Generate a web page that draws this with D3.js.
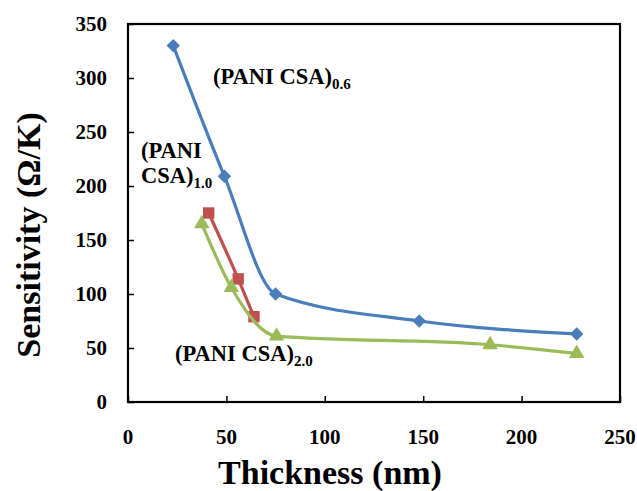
<!DOCTYPE html>
<html><head><meta charset="utf-8">
<script src="https://cdn.jsdelivr.net/npm/d3@7"></script>
<style>body{margin:0;background:#fff}svg{display:block}</style>
</head><body><svg id="c" width="637" height="491" font-family="'Liberation Serif', 'DejaVu Serif', serif" font-weight="bold"></svg>
<script>
const xTicks = [0, 50, 100, 150, 200, 250];
const yTicks = [0, 50, 100, 150, 200, 250, 300, 350];
const thick06 = [23, 49, 75, 148, 228];
const sens06 = [330, 209, 100, 75, 63];
const thick10 = [41, 56, 64];
const sens10 = [175, 114, 79];
const thick20 = [37.5, 52.5, 75.5, 184, 228];
const sens20 = [165, 106, 61, 53, 45];
const seriesNames = ["0.6", "1.0", "2.0"];
const colors = ["#4A7EBB", "#C0504D", "#9BBB59"];
const xTitle = "Thickness (nm)";
const yTitle = "Sensitivity (\u03A9/K)";

const svg = d3.select("#c");
const L = 128, R = 620, T = 24, B = 402;
const x = d3.scaleLinear().domain([0, 250]).range([L, R]);
const y = d3.scaleLinear().domain([0, 350]).range([B, T]);

// ticks (inside)
svg.append("g").attr("transform", `translate(0,${B})`)
  .call(d3.axisBottom(x).tickValues(xTicks).tickSize(-6).tickFormat(""))
  .call(g => { g.select(".domain").remove(); g.selectAll("line").attr("stroke", "#000").attr("stroke-width", 1.5); });
svg.append("g").attr("transform", `translate(${L},0)`)
  .call(d3.axisLeft(y).tickValues(yTicks).tickSize(-6).tickFormat(""))
  .call(g => { g.select(".domain").remove(); g.selectAll("line").attr("stroke", "#000").attr("stroke-width", 1.5); });

// tick labels
svg.append("g").selectAll("text").data(xTicks).join("text")
  .attr("x", d => x(d)).attr("y", 444).attr("text-anchor", "middle")
  .attr("font-size", 21).text(d => d);
svg.append("g").selectAll("text").data(yTicks).join("text")
  .attr("x", 107).attr("y", d => y(d) + 7).attr("text-anchor", "end")
  .attr("font-size", 21).text(d => d);

// frame
svg.append("rect").attr("x", L).attr("y", T).attr("width", R - L).attr("height", B - T)
  .attr("fill", "none").attr("stroke", "#000").attr("stroke-width", 2.2);

// series
const series = [
  { xs: thick06, ys: sens06, sym: d3.symbolDiamond2, size: 115 },
  { xs: thick10, ys: sens10, sym: d3.symbolSquare, size: 130 },
  { xs: thick20, ys: sens20, sym: d3.symbolTriangle, size: 105 }
];
const line = d3.line().x(d => x(d[0])).y(d => y(d[1])).curve(d3.curveMonotoneX);
series.forEach((s, i) => {
  const pts = s.xs.map((v, k) => [v, s.ys[k]]);
  svg.append("path").datum(pts).attr("d", line).attr("fill", "none")
    .attr("stroke", colors[i]).attr("stroke-width", 3.2);
  svg.append("g").selectAll("path").data(pts).join("path")
    .attr("transform", d => `translate(${x(d[0])},${y(d[1])})`)
    .attr("d", d3.symbol().type(s.sym).size(s.size)).attr("fill", colors[i]);
});

// annotations
function label(xp, yp, lines, sub) {
  const t = svg.append("text").attr("x", xp).attr("y", yp).attr("font-size", 22.5);
  lines.forEach((ln, k) => {
    const ts = t.append("tspan").text(ln);
    if (k > 0) ts.attr("x", xp).attr("dy", 25);
  });
  t.append("tspan").attr("dy", 5).attr("font-size", 15).text(sub);
}
label(213, 84, ["(PANI CSA)"], seriesNames[0]);
label(141, 158, ["(PANI", "CSA)"], seriesNames[1]);
label(175, 361, ["(PANI CSA)"], seriesNames[2]);

// axis titles
svg.append("text").attr("x", 330).attr("y", 484).attr("text-anchor", "middle")
  .attr("font-size", 34).text(xTitle);
svg.append("text").attr("transform", "translate(40,235) rotate(-90)").attr("text-anchor", "middle")
  .attr("font-size", 34).text(yTitle);
</script></body></html>
